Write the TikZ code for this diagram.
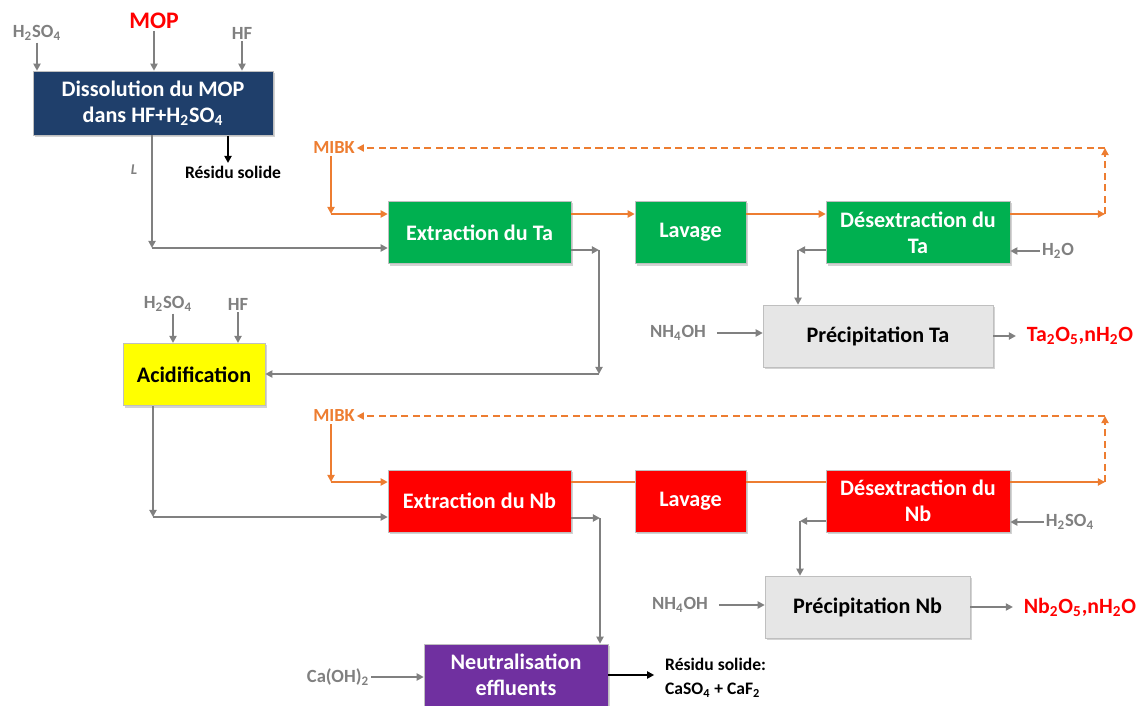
\documentclass[tikz,border=0pt]{standalone}
\usepackage{fontspec}
\setmainfont{Carlito}
\usetikzlibrary{arrows.meta,shadows}

\definecolor{dblue}{HTML}{1F3F6B}
\definecolor{vgreen}{HTML}{00B050}
\definecolor{vred}{HTML}{FF0000}
\definecolor{vyellow}{HTML}{FFFF00}
\definecolor{vpurple}{HTML}{7030A0}
\definecolor{lgray}{HTML}{E6E6E6}
\definecolor{orng}{HTML}{ED7D31}
\definecolor{lgr}{HTML}{808080}
\newcommand{\subsc}[1]{\textsubscript{#1}}

\begin{document}
\begin{tikzpicture}[x=0.02cm, y=-0.02cm,
	box/.style={rectangle, draw=black!25, line width=0.3pt, align=center, inner sep=0pt, minimum height=1.25cm, font=\fontsize{12.6}{14.8}\selectfont\bfseries, drop shadow={shadow xshift=1.2pt, shadow yshift=-1.2pt, opacity=0.35}},
	chem/.style={text=lgr, font=\fontsize{10.6}{12}\selectfont\bfseries, inner sep=1pt},
	prod/.style={text=vred, font=\fontsize{12.4}{14}\selectfont\bfseries, inner sep=1pt},
	mibk/.style={text=orng, font=\fontsize{10.5}{12}\selectfont\bfseries, inner sep=1pt},
	garr/.style={draw=lgr, line width=1pt, -{Triangle[length=4pt,width=4pt]}},
	barr/.style={draw=black, line width=1pt, -{Triangle[length=4pt,width=4pt]}},
	oline/.style={draw=orng, line width=1.1pt},
	oarr/.style={oline, -{Triangle[length=4pt,width=4pt]}},
	odash/.style={oarr, dash pattern=on 4pt off 2.5pt}]

	\useasboundingbox (0,0) rectangle (1143,706);

	% Dissolution
	\node (diss) [box, fill=dblue, text=white, minimum width=4.8cm, minimum height=1.28cm] at (153,103) {Dissolution du MOP\\dans HF+H\subsc{2}SO\subsc{4}};
	\node (d-h2so4) [chem] at (37,33) {H\subsc{2}SO\subsc{4}};
	\node (d-mop) [prod, font=\fontsize{13.5}{15}\selectfont\bfseries] at (154,21) {MOP};
	\node (d-hf) [chem] at (242,33) {HF};
	\node (lbl-l) [chem, font=\fontsize{8.5}{10}\selectfont\bfseries\itshape] at (134,170) {L};
	\node (res1) [inner sep=1pt, font=\fontsize{10}{12}\selectfont\bfseries] at (233,172) {Résidu solide};

	% Ta line
	\node (extTa) [box, fill=vgreen, text=white, minimum width=3.66cm] at (479.5,232.5) {Extraction du Ta};
	\node (lavTa) [box, fill=vgreen, text=white, minimum width=2.22cm] at (690.5,232.5) {Lavage};
	\node (desTa) [box, fill=vgreen, text=white, minimum width=3.68cm] at (918,232.5) {Désextraction du\\Ta};
	\node (precTa) [box, fill=lgray, minimum width=4.6cm, minimum height=1.24cm] at (878,336) {Précipitation Ta};
	\node (mibkTa) [mibk] at (334,148) {MIBK};
	\node (h2o) [chem] at (1058,251) {H\subsc{2}O};
	\node (nhTa) [chem] at (678,333) {NH\subsc{4}OH};
	\node (taox) [prod] at (1080,336) {Ta\subsc{2}O\subsc{5},nH\subsc{2}O};

	% Acidification
	\node (acid) [box, fill=vyellow, minimum width=2.84cm] at (194,374.5) {Acidification};
	\node (a-h2so4) [chem] at (168,304) {H\subsc{2}SO\subsc{4}};
	\node (a-hf) [chem] at (238,304) {HF};

	% Nb line
	\node (extNb) [box, fill=vred, text=white, minimum width=3.66cm, minimum height=1.24cm] at (479.5,501) {Extraction du Nb};
	\node (lavNb) [box, fill=vred, text=white, minimum width=2.22cm, minimum height=1.24cm] at (690.5,501) {Lavage};
	\node (desNb) [box, fill=vred, text=white, minimum width=3.68cm, minimum height=1.24cm] at (918,501) {Désextraction du\\Nb};
	\node (precNb) [box, fill=lgray, minimum width=4.1cm, minimum height=1.24cm] at (867.5,607) {Précipitation Nb};
	\node (mibkNb) [mibk] at (334,416) {MIBK};
	\node (n-h2so4) [chem] at (1070,522) {H\subsc{2}SO\subsc{4}};
	\node (nhNb) [chem] at (680,605) {NH\subsc{4}OH};
	\node (nbox) [prod] at (1080,607) {Nb\subsc{2}O\subsc{5},nH\subsc{2}O};

	% Neutralisation
	\node (neut) [box, fill=vpurple, text=white, minimum width=3.68cm, minimum height=1.24cm] at (516,675) {Neutralisation\\effluents};
	\node (caoh) [chem] at (338,677) {Ca(OH)\subsc{2}};
	\node (res2) [inner sep=1pt, align=left, anchor=west, font=\fontsize{10}{13.5}\selectfont\bfseries] at (663,678) {Résidu solide:\\CaSO\subsc{4} + CaF\subsc{2}};

	% Corner points
	\coordinate (cL) at (152,248);
	\coordinate (rTa) at (1105,214);
	\coordinate (tTa) at (1105,148);
	\coordinate (gTa) at (599,250);
	\coordinate (aTa) at (599,374);
	\coordinate (pTa) at (798,250);
	\coordinate (cA) at (153,517);
	\coordinate (rNb) at (1105,482);
	\coordinate (tNb) at (1105,416);
	\coordinate (gNb) at (600,518);
	\coordinate (pNb) at (800,521);
	\coordinate (mTa) at (331,214);
	\coordinate (mNb) at (331,482);
	\coordinate (r1) at (228,136);
	\coordinate (r2) at (228,163);

	% Arrows, dissolution
	\draw[garr] (d-h2so4.south) -- (d-h2so4.south |- diss.north);
	\draw[garr] (d-mop.south) -- (d-mop.south |- diss.north);
	\draw[garr] (d-hf.south) -- (d-hf.south |- diss.north);
	\draw[barr] (r1) -- (r2);
	\draw[garr] (diss.south -| cL) -- (cL);
	\draw[garr] (cL) -- (cL -| extTa.west);

	% Arrows, Ta
	\draw[oarr] (mibkTa.south -| mTa) -- (mTa);
	\draw[oarr] (mTa) -- (mTa -| extTa.west);
	\draw[oarr] (extTa.east |- rTa) -- (lavTa.west |- rTa);
	\draw[oarr] (lavTa.east |- rTa) -- (desTa.west |- rTa);
	\draw[oarr] (desTa.east |- rTa) -- (rTa);
	\draw[odash] (rTa) -- (tTa);
	\draw[odash] (tTa) -- (mibkTa.east);
	\draw[garr] (h2o.west) -- (desTa.east |- h2o.west);
	\draw[garr] (desTa.west |- pTa) -- (pTa);
	\draw[garr] (pTa) -- (pTa |- precTa.north);
	\draw[garr, shorten <=5pt] (nhTa.east) -- (precTa.west |- nhTa.east);
	\draw[garr, shorten >=5pt] (precTa.east) -- (taox.west);
	\draw[garr] (extTa.east |- gTa) -- (gTa);
	\draw[garr] (gTa) -- (aTa);
	\draw[garr] (aTa) -- (aTa -| acid.east);

	% Arrows, acidification
	\draw[garr] (a-h2so4.south -| 173,0) -- (acid.north -| 173,0);
	\draw[garr] (a-hf.south) -- (a-hf.south |- acid.north);
	\draw[garr] (acid.south -| cA) -- (cA);
	\draw[garr] (cA) -- (cA -| extNb.west);

	% Arrows, Nb
	\draw[oarr] (mibkNb.south -| mNb) -- (mNb);
	\draw[oarr] (mNb) -- (mNb -| extNb.west);
	\draw[oline] (extNb.east |- rNb) -- (lavNb.west |- rNb);
	\draw[oline] (lavNb.east |- rNb) -- (desNb.west |- rNb);
	\draw[oarr] (desNb.east |- rNb) -- (rNb);
	\draw[odash] (rNb) -- (tNb);
	\draw[odash] (tNb) -- (mibkNb.east);
	\draw[garr] (n-h2so4.west) -- (desNb.east |- n-h2so4.west);
	\draw[garr] (desNb.west |- pNb) -- (pNb);
	\draw[garr] (pNb) -- (pNb |- precNb.north);
	\draw[garr, shorten <=5pt] (nhNb.east) -- (precNb.west |- nhNb.east);
	\draw[garr, shorten >=5pt] (precNb.east) -- (nbox.west);
	\draw[garr] (extNb.east |- gNb) -- (gNb);
	\draw[garr] (gNb) -- (gNb |- neut.north);

	% Arrows, neutralisation
	\draw[garr] (caoh.east) -- (neut.west |- caoh.east);
	\draw[barr, shorten >=5pt] (neut.east) -- (neut.east -| res2.west);
\end{tikzpicture}
\end{document}
